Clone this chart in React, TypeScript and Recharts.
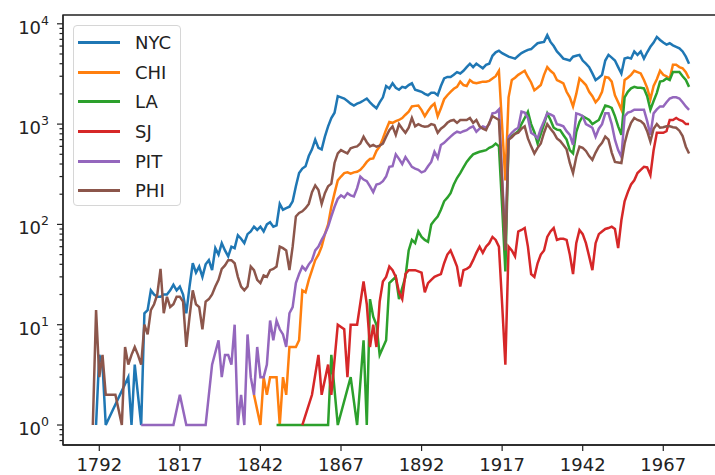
import { LineChart, Line, XAxis, YAxis, Legend, ReferenceArea } from 'recharts';

// yearly counts per city (years with no record are simply absent)
const NYC: [number, number][] = [
  [1791, 1], [1792, 5], [1793, 4], [1794, 1], [1801, 3], [1802, 1], [1803, 4], [1805, 1],
  [1806, 13], [1807, 14], [1808, 22], [1809, 20], [1810, 19], [1811, 19], [1812, 20], [1813, 20],
  [1814, 22], [1815, 25], [1816, 22], [1817, 24], [1818, 20], [1819, 13], [1820, 24], [1821, 41],
  [1822, 33], [1823, 38], [1824, 30], [1825, 40], [1826, 44], [1827, 35], [1828, 58], [1829, 50],
  [1830, 65], [1831, 55], [1832, 48], [1833, 60], [1834, 58], [1835, 78], [1836, 72], [1837, 65],
  [1838, 80], [1839, 85], [1840, 95], [1841, 88], [1842, 95], [1843, 85], [1844, 100], [1845, 105],
  [1846, 95], [1847, 98], [1848, 160], [1849, 140], [1850, 145], [1851, 150], [1852, 170], [1853, 240],
  [1854, 325], [1855, 360], [1856, 380], [1857, 480], [1858, 560], [1859, 700], [1860, 580], [1861, 560],
  [1862, 750], [1863, 950], [1864, 1150], [1865, 1300], [1866, 1900], [1867, 1850], [1868, 1800], [1869, 1700],
  [1870, 1600], [1871, 1530], [1872, 1600], [1873, 1650], [1874, 1720], [1875, 1800], [1876, 1650], [1877, 1530],
  [1878, 1440], [1879, 1650], [1880, 1850], [1881, 2400], [1882, 2270], [1883, 2550], [1884, 2300], [1885, 2200],
  [1886, 2350], [1887, 2300], [1888, 2450], [1889, 2550], [1890, 2200], [1891, 2150], [1892, 2100], [1893, 2000],
  [1894, 1940], [1895, 2050], [1896, 2050], [1897, 1940], [1898, 2400], [1899, 2850], [1900, 2950], [1901, 2950],
  [1902, 3100], [1903, 3300], [1904, 3200], [1905, 3400], [1906, 3700], [1907, 4000], [1908, 3700], [1909, 4000],
  [1910, 3800], [1911, 3600], [1912, 3900], [1913, 4000], [1914, 4800], [1915, 5200], [1916, 5400], [1917, 5100],
  [1918, 4900], [1919, 4700], [1920, 4600], [1921, 4500], [1922, 4800], [1923, 5100], [1924, 5300], [1925, 5500],
  [1926, 5600], [1927, 6000], [1928, 6400], [1929, 6500], [1930, 6600], [1931, 7700], [1932, 6600], [1933, 6000],
  [1934, 5300], [1935, 4900], [1936, 4500], [1937, 4400], [1938, 4300], [1939, 4700], [1940, 4800], [1941, 4900],
  [1942, 4300], [1943, 4000], [1944, 3700], [1945, 3200], [1946, 2750], [1947, 2900], [1948, 3100], [1949, 4300],
  [1950, 4900], [1951, 4600], [1952, 4300], [1953, 3700], [1954, 3200], [1955, 4500], [1956, 4600], [1957, 4500],
  [1958, 5300], [1959, 4900], [1960, 5300], [1961, 4500], [1962, 5200], [1963, 5900], [1964, 6500], [1965, 7400],
  [1966, 6900], [1967, 6500], [1968, 6200], [1969, 6400], [1970, 6100], [1971, 5900], [1972, 5700], [1973, 5300],
  [1974, 4700], [1975, 4000],
];

const CHI: [number, number][] = [
  [1840, 2], [1842, 1], [1843, 3], [1844, 2], [1845, 3], [1846, 3], [1847, 3], [1848, 1],
  [1849, 3], [1850, 2], [1851, 6], [1853, 6], [1854, 7], [1855, 22], [1856, 21], [1857, 28],
  [1858, 35], [1859, 44], [1860, 50], [1861, 60], [1862, 80], [1863, 100], [1864, 150], [1865, 205],
  [1866, 275], [1867, 300], [1868, 325], [1869, 330], [1870, 320], [1871, 330], [1872, 335], [1873, 350],
  [1874, 380], [1875, 420], [1876, 450], [1877, 455], [1878, 540], [1879, 600], [1880, 720], [1881, 880],
  [1882, 1050], [1883, 1030], [1884, 1070], [1885, 1100], [1886, 1150], [1887, 1240], [1888, 1330], [1889, 1500],
  [1890, 1520], [1891, 1530], [1892, 1380], [1893, 1200], [1894, 1350], [1895, 1500], [1896, 1600], [1897, 1200],
  [1898, 1440], [1899, 1770], [1900, 1940], [1901, 2100], [1902, 2250], [1903, 2350], [1904, 2650], [1905, 2450],
  [1906, 2400], [1907, 2750], [1908, 2600], [1909, 2550], [1910, 2600], [1911, 2650], [1912, 2650], [1913, 2700],
  [1914, 2850], [1915, 3000], [1916, 3400], [1917, 950], [1918, 275], [1919, 1850], [1920, 2750], [1921, 2900],
  [1922, 3100], [1923, 3250], [1924, 3400], [1925, 2950], [1926, 2600], [1927, 2170], [1928, 2300], [1929, 2450],
  [1930, 3100], [1931, 3700], [1932, 3400], [1933, 3200], [1934, 2750], [1935, 2650], [1936, 2550], [1937, 2100],
  [1938, 1850], [1939, 1500], [1940, 2000], [1941, 2850], [1942, 2650], [1943, 2450], [1944, 2100], [1945, 1900],
  [1946, 1650], [1947, 1800], [1948, 2100], [1949, 2950], [1950, 2900], [1951, 2650], [1952, 1940], [1953, 1650],
  [1954, 1390], [1955, 2750], [1956, 2900], [1957, 3100], [1958, 3400], [1959, 3300], [1960, 3200], [1961, 2750],
  [1962, 2300], [1963, 1770], [1964, 2400], [1965, 2800], [1966, 3400], [1967, 3100], [1968, 3000], [1969, 2850],
  [1970, 3900], [1971, 3900], [1972, 3700], [1973, 3600], [1974, 3300], [1975, 2850],
];

const LA: [number, number][] = [
  [1847, 1], [1863, 1], [1864, 5], [1866, 1], [1870, 3], [1872, 1], [1874, 7], [1875, 1],
  [1876, 18], [1877, 12], [1878, 10], [1879, 5], [1881, 7], [1882, 26], [1884, 30], [1885, 18],
  [1887, 30], [1888, 55], [1889, 70], [1890, 65], [1891, 85], [1892, 75], [1893, 70], [1894, 67],
  [1895, 100], [1896, 110], [1897, 120], [1898, 140], [1899, 170], [1900, 185], [1901, 205], [1902, 250],
  [1903, 290], [1904, 325], [1905, 370], [1906, 420], [1907, 460], [1908, 500], [1909, 515], [1910, 530],
  [1911, 540], [1912, 550], [1913, 580], [1914, 600], [1915, 640], [1916, 600], [1917, 150], [1918, 34],
  [1919, 720], [1920, 760], [1921, 800], [1922, 850], [1923, 1000], [1924, 1150], [1925, 1330], [1926, 1000],
  [1927, 830], [1928, 640], [1929, 800], [1930, 1000], [1931, 1280], [1932, 1100], [1933, 920], [1934, 880],
  [1935, 870], [1936, 780], [1937, 700], [1938, 550], [1939, 510], [1940, 830], [1941, 1050], [1942, 1200],
  [1943, 1150], [1944, 1100], [1945, 1000], [1946, 1050], [1947, 1100], [1948, 1300], [1949, 1530], [1950, 1500],
  [1951, 1450], [1952, 1200], [1953, 950], [1954, 780], [1955, 1850], [1956, 2100], [1957, 2270], [1958, 2350],
  [1959, 2300], [1960, 2300], [1961, 2270], [1962, 1900], [1963, 1390], [1964, 1700], [1965, 2050], [1966, 2650],
  [1967, 2700], [1968, 2850], [1969, 2750], [1970, 3300], [1971, 3300], [1972, 3300], [1973, 3000], [1974, 2750],
  [1975, 2350],
];

const SJ: [number, number][] = [
  [1855, 1], [1858, 2], [1860, 5], [1861, 2], [1863, 4], [1864, 2], [1866, 10], [1868, 9],
  [1869, 3], [1870, 10], [1872, 10], [1874, 27], [1875, 16], [1876, 6], [1877, 10], [1878, 6],
  [1879, 17], [1880, 27], [1881, 30], [1882, 38], [1883, 35], [1884, 30], [1885, 21], [1886, 18],
  [1887, 32], [1888, 35], [1889, 35], [1890, 35], [1891, 34], [1892, 33], [1893, 21], [1894, 26],
  [1895, 28], [1896, 30], [1897, 31], [1898, 32], [1899, 41], [1900, 50], [1901, 55], [1902, 46],
  [1903, 38], [1904, 24], [1905, 35], [1906, 36], [1907, 38], [1908, 44], [1909, 52], [1910, 60],
  [1911, 52], [1912, 60], [1913, 65], [1914, 75], [1915, 70], [1916, 60], [1917, 16], [1918, 4],
  [1919, 60], [1920, 55], [1921, 48], [1922, 85], [1923, 88], [1924, 92], [1925, 60], [1926, 32],
  [1927, 30], [1928, 41], [1929, 50], [1930, 55], [1931, 75], [1932, 85], [1933, 92], [1934, 70],
  [1935, 72], [1936, 72], [1937, 70], [1938, 50], [1939, 32], [1940, 65], [1941, 88], [1942, 80],
  [1943, 65], [1944, 48], [1945, 35], [1946, 65], [1947, 80], [1948, 85], [1949, 90], [1950, 92],
  [1951, 95], [1952, 90], [1953, 58], [1954, 110], [1955, 170], [1956, 210], [1957, 250], [1958, 275],
  [1959, 325], [1960, 350], [1961, 375], [1962, 370], [1963, 310], [1964, 550], [1965, 820], [1966, 820],
  [1967, 820], [1968, 850], [1969, 1100], [1970, 1100], [1971, 1150], [1972, 1100], [1973, 1070], [1974, 1000],
  [1975, 1000],
];

const PIT: [number, number][] = [
  [1805, 1], [1815, 1], [1817, 2], [1819, 1], [1825, 1], [1827, 4], [1829, 7], [1830, 3],
  [1831, 5], [1832, 5], [1833, 4], [1834, 10], [1835, 1], [1836, 2], [1837, 1], [1838, 8],
  [1839, 3], [1840, 2], [1841, 6], [1842, 3], [1843, 3], [1844, 4], [1845, 11], [1846, 7],
  [1847, 11], [1848, 9], [1849, 8], [1850, 6], [1851, 13], [1852, 15], [1853, 26], [1854, 32],
  [1855, 38], [1856, 35], [1857, 40], [1858, 44], [1859, 55], [1860, 60], [1861, 70], [1862, 80],
  [1863, 95], [1864, 120], [1865, 150], [1866, 180], [1867, 195], [1868, 185], [1869, 205], [1870, 195],
  [1871, 190], [1872, 230], [1873, 300], [1874, 280], [1875, 270], [1876, 240], [1877, 210], [1878, 250],
  [1879, 255], [1880, 270], [1881, 300], [1882, 375], [1883, 380], [1884, 500], [1885, 450], [1886, 400],
  [1887, 470], [1888, 420], [1889, 375], [1890, 360], [1891, 350], [1892, 330], [1893, 340], [1894, 380],
  [1895, 420], [1896, 530], [1897, 460], [1898, 620], [1899, 650], [1900, 700], [1901, 750], [1902, 800],
  [1903, 840], [1904, 820], [1905, 850], [1906, 870], [1907, 920], [1908, 950], [1909, 840], [1910, 900],
  [1911, 950], [1912, 920], [1913, 1000], [1914, 1280], [1915, 1300], [1916, 1400], [1917, 300], [1918, 65],
  [1919, 750], [1920, 820], [1921, 880], [1922, 920], [1923, 1330], [1924, 1300], [1925, 1150], [1926, 820],
  [1927, 780], [1928, 720], [1929, 900], [1930, 1070], [1931, 1280], [1932, 1250], [1933, 1200], [1934, 1000],
  [1935, 980], [1936, 950], [1937, 850], [1938, 780], [1939, 620], [1940, 1280], [1941, 1250], [1942, 1200],
  [1943, 1000], [1944, 960], [1945, 920], [1946, 750], [1947, 900], [1948, 1000], [1949, 1280], [1950, 1280],
  [1951, 1000], [1952, 700], [1953, 550], [1954, 470], [1955, 1200], [1956, 1300], [1957, 1330], [1958, 1390],
  [1959, 1390], [1960, 1390], [1961, 1390], [1962, 1070], [1963, 780], [1964, 1280], [1965, 1400], [1966, 1500],
  [1967, 1500], [1968, 1650], [1969, 1800], [1970, 1850], [1971, 1850], [1972, 1800], [1973, 1650], [1974, 1500],
  [1975, 1390],
];

const PHI: [number, number][] = [
  [1790, 1], [1791, 14], [1792, 3], [1793, 5], [1794, 2], [1797, 2], [1799, 1], [1800, 6],
  [1801, 4], [1802, 5], [1803, 6], [1804, 5], [1805, 4], [1806, 10], [1807, 8], [1808, 14],
  [1809, 16], [1810, 20], [1811, 36], [1812, 13], [1813, 19], [1814, 15], [1815, 16], [1816, 19],
  [1817, 19], [1818, 17], [1819, 6], [1820, 12], [1821, 22], [1822, 16], [1823, 15], [1824, 9],
  [1825, 17], [1826, 18], [1827, 20], [1828, 24], [1829, 28], [1830, 36], [1831, 39], [1832, 44],
  [1833, 44], [1834, 41], [1835, 30], [1836, 24], [1837, 22], [1838, 24], [1839, 38], [1840, 35],
  [1841, 28], [1842, 26], [1843, 31], [1844, 30], [1845, 35], [1846, 36], [1847, 38], [1848, 60],
  [1849, 58], [1850, 55], [1851, 35], [1852, 60], [1853, 120], [1854, 130], [1855, 135], [1856, 145],
  [1857, 160], [1858, 210], [1859, 245], [1860, 220], [1861, 160], [1862, 205], [1863, 240], [1864, 255],
  [1865, 410], [1866, 510], [1867, 550], [1868, 530], [1869, 510], [1870, 575], [1871, 590], [1872, 600],
  [1873, 640], [1874, 750], [1875, 660], [1876, 600], [1877, 620], [1878, 595], [1879, 610], [1880, 640],
  [1881, 750], [1882, 870], [1883, 950], [1884, 780], [1885, 1000], [1886, 900], [1887, 820], [1888, 920],
  [1889, 1150], [1890, 950], [1891, 1000], [1892, 960], [1893, 940], [1894, 950], [1895, 1000], [1896, 980],
  [1897, 820], [1898, 900], [1899, 950], [1900, 1030], [1901, 1080], [1902, 1100], [1903, 1030], [1904, 1100],
  [1905, 1100], [1906, 1100], [1907, 1150], [1908, 1030], [1909, 1100], [1910, 950], [1911, 900], [1912, 870],
  [1913, 1030], [1914, 1200], [1915, 1150], [1916, 1100], [1917, 260], [1918, 55], [1919, 700], [1920, 740],
  [1921, 800], [1922, 820], [1923, 900], [1924, 950], [1925, 720], [1926, 600], [1927, 510], [1928, 580],
  [1929, 640], [1930, 820], [1931, 1000], [1932, 900], [1933, 820], [1934, 720], [1935, 680], [1936, 620],
  [1937, 560], [1938, 410], [1939, 325], [1940, 470], [1941, 595], [1942, 580], [1943, 540], [1944, 480],
  [1945, 440], [1946, 520], [1947, 595], [1948, 650], [1949, 750], [1950, 700], [1951, 520], [1952, 420],
  [1953, 415], [1954, 410], [1955, 640], [1956, 850], [1957, 1030], [1958, 1150], [1959, 1100], [1960, 1070],
  [1961, 1000], [1962, 850], [1963, 670], [1964, 900], [1965, 1000], [1966, 920], [1967, 930], [1968, 950],
  [1969, 950], [1970, 930], [1971, 920], [1972, 860], [1973, 760], [1974, 595], [1975, 510],
];

const SERIES = [
  { key: 'NYC', color: '#1f77b4', points: NYC },
  { key: 'CHI', color: '#ff7f0e', points: CHI },
  { key: 'LA', color: '#2ca02c', points: LA },
  { key: 'SJ', color: '#d62728', points: SJ },
  { key: 'PIT', color: '#9467bd', points: PIT },
  { key: 'PHI', color: '#8c564b', points: PHI },
];

const YEAR_TICKS = [1792, 1817, 1842, 1867, 1892, 1917, 1942, 1967];
const Y_TICKS = [
  0.7, 0.8, 0.9,
  1, 2, 3, 4, 5, 6, 7, 8, 9,
  10, 20, 30, 40, 50, 60, 70, 80, 90,
  100, 200, 300, 400, 500, 600, 700, 800, 900,
  1000, 2000, 3000, 4000, 5000, 6000, 7000, 8000, 9000,
  10000,
];
const X_DOMAIN: [number, number] = [1780.74, 1984.6];
const Y_DOMAIN: [number, number] = [0.632, 12240];

const FONT = '"DejaVu Sans", sans-serif';
const INK = '#222';

// one row per year, each city only where it has a value
function buildRows() {
  const byYear = new Map<number, Record<string, number>>();
  for (const s of SERIES) {
    for (const [year, value] of s.points) {
      const row = byYear.get(year) ?? { year };
      row[s.key] = value;
      byYear.set(year, row);
    }
  }
  return [...byYear.values()].sort((a, b) => a.year - b.year);
}

const rows = buildRows();

// log axis tick: major ticks get a 10^n label, minor ticks only a short mark
function LogTick(props: any) {
  const { x, y, payload } = props;
  const lg = Math.log10(payload.value);
  const exp = Math.round(lg);
  const major = Math.abs(lg - exp) < 1e-6;
  return (
    <g>
      <line x1={x - (major ? 6 : 3.5)} x2={x} y1={y} y2={y} stroke={INK} strokeWidth={1.2} />
      {major && (
        <text x={x - 14} y={y + 10} textAnchor="end" fill={INK} fontFamily={FONT} fontSize={18}>
          10
          <tspan dy={-9} fontSize={12.5}>{exp}</tspan>
        </text>
      )}
    </g>
  );
}

function LegendBox() {
  return (
    <div
      style={{
        width: 108,
        height: 181,
        border: '1px solid #d6d6d6',
        borderRadius: 4,
        background: 'rgba(255,255,255,0.85)',
        boxSizing: 'border-box',
        paddingTop: 2,
      }}
    >
      {SERIES.map((s) => (
        <div key={s.key} style={{ display: 'flex', alignItems: 'center', height: 29.6 }}>
          <div style={{ width: 42, height: 3, background: s.color, marginLeft: 4 }} />
          <span style={{ marginLeft: 15, fontFamily: FONT, fontSize: 18, color: INK }}>{s.key}</span>
        </div>
      ))}
    </div>
  );
}

export default function App() {
  return (
    <div
      style={{
        position: 'absolute',
        left: 0,
        top: 0,
        width: 715,
        height: 475,
        overflow: 'hidden',
        background: '#fff',
      }}
    >
      <LineChart width={720} height={475} data={rows} margin={{ top: 15, right: 0, bottom: 0, left: 8 }}>
        <XAxis
          dataKey="year"
          type="number"
          domain={X_DOMAIN}
          ticks={YEAR_TICKS}
          interval={0}
          allowDataOverflow
          height={30}
          tickSize={6}
          tickMargin={7}
          tick={{ fill: INK, fontSize: 18, fontFamily: FONT }}
          tickLine={{ stroke: INK, strokeWidth: 1.2 }}
          axisLine={{ stroke: INK, strokeWidth: 1.3 }}
        />
        <YAxis
          type="number"
          scale="log"
          domain={Y_DOMAIN}
          ticks={Y_TICKS}
          interval={0}
          allowDataOverflow
          width={55}
          tickSize={0}
          tickMargin={0}
          tickLine={false}
          tick={<LogTick />}
          axisLine={{ stroke: INK, strokeWidth: 1.3 }}
        />
        <ReferenceArea
          x1={X_DOMAIN[0]}
          x2={X_DOMAIN[1]}
          y1={Y_DOMAIN[0]}
          y2={Y_DOMAIN[1]}
          fill="none"
          stroke={INK}
          strokeWidth={1.3}
          ifOverflow="visible"
        />
        {SERIES.map((s) => (
          <Line
            key={s.key}
            dataKey={s.key}
            name={s.key}
            type="linear"
            stroke={s.color}
            strokeWidth={2.5}
            dot={false}
            connectNulls
            isAnimationActive={false}
          />
        ))}
        <Legend
          layout="vertical"
          align="center"
          verticalAlign="middle"
          wrapperStyle={{ left: 73, top: 25, width: 'auto' }}
          content={() => <LegendBox />}
        />
      </LineChart>
    </div>
  );
}
